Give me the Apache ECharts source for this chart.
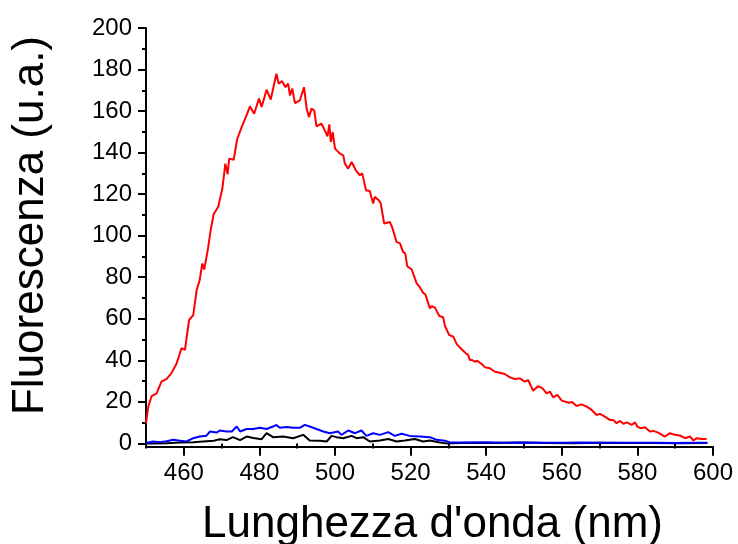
<!DOCTYPE html>
<html>
<head>
<meta charset="utf-8">
<title>Fluorescenza</title>
<script src="https://cdn.jsdelivr.net/npm/echarts@6/dist/echarts.min.js"></script>
<style>
  html, body { margin: 0; padding: 0; background: #ffffff; }
  #chart { width: 738px; height: 544px; }
</style>
</head>
<body>
<div id="chart"></div>
<script>
// Emission spectra: wavelength (nm) and fluorescence intensity (a.u.)
const redWl = [450.0,450.6,451.5,452.8,454.1,455.4,456.7,458.1,459.4,460.3,461.4,462.5,463.4,464.2,464.9,465.4,466.4,467.1,467.9,469.1,470.2,471.0,471.6,472.0,473.2,474.1,475.3,476.6,477.5,478.6,479.9,480.6,481.9,483.0,484.5,485.1,486.0,486.9,487.6,488.1,488.7,489.4,490.7,491.1,491.8,492.5,493.1,493.8,494.5,495.1,496.4,497.3,498.0,498.5,498.9,499.4,500.0,501.3,502.2,502.6,503.5,504.4,505.5,506.6,507.2,508.2,509.2,510.1,510.5,511.6,512.1,513.0,514.5,515.1,516.3,517.2,518.0,518.6,519.1,520.3,521.6,522.5,523.3,523.9,524.4,525.1,525.6,526.4,527.6,528.6,529.1,530.2,531.3,532.2,533.5,534.6,535.2,535.7,536.3,537.0,537.6,538.8,539.7,541.0,542.3,543.6,544.9,546.3,547.6,548.9,550.2,551.1,552.4,553.8,554.9,556.0,556.9,557.7,558.8,560.0,560.9,561.8,562.7,563.9,565.2,566.6,567.9,569.2,570.1,571.4,572.7,573.6,574.5,575.4,576.3,577.2,578.5,579.4,580.0,580.8,582.0,583.3,584.2,585.5,587.3,588.6,589.9,591.2,592.6,593.9,594.8,595.7,597.0,598.3];
const redFl = [9.7,17.7,22.8,24.1,29.7,30.9,33.7,38.5,45.8,45.0,59.4,61.8,73.8,78.6,86.6,83.7,93.8,102.6,110.3,113.9,122.7,134.7,129.6,137.1,136.6,146.3,152.3,157.9,162.3,158.7,166.0,162.0,170.3,165.5,178.0,173.2,174.4,171.5,173.2,167.5,170.8,163.8,165.1,165.1,171.5,161.2,157.1,161.2,160.3,152.6,154.0,150.7,147.8,153.6,145.1,149.9,141.9,139.5,138.7,134.7,132.3,135.5,131.5,129.1,130.0,121.9,121.5,115.5,118.7,117.1,115.5,105.9,106.6,104.2,97.0,96.3,92.2,91.4,85.3,83.7,77.0,75.1,72.5,71.8,69.0,65.0,66.1,65.5,61.3,60.7,56.5,52.2,51.4,47.8,45.3,43.4,42.6,40.1,40.1,39.3,39.8,38.2,36.6,36.2,34.5,34.0,33.4,31.8,31.0,31.3,29.7,30.5,25.4,27.6,26.5,24.1,24.9,22.2,23.3,20.6,20.1,19.6,19.9,18.0,18.8,17.7,16.1,13.7,14.2,12.9,11.3,11.3,9.7,10.8,9.4,10.1,8.9,10.1,8.1,7.3,7.8,5.7,6.0,5.2,3.3,4.9,4.1,3.8,2.5,3.3,1.4,2.5,2.1,2.1];

const blueWl = [450.0,450.5,451.9,453.7,455.4,457.2,459.0,460.7,462.5,464.2,466.0,466.9,468.7,469.5,471.3,472.7,474.0,474.9,476.6,478.4,480.1,481.9,483.6,484.5,485.4,487.2,488.9,490.7,492.0,493.3,495.1,496.9,498.6,500.8,501.7,503.5,505.3,507.0,508.3,510.1,511.9,514.1,515.8,517.6,519.8,522.5,525.1,526.9,529.1,530.4,535.0,540.0,545.0,550.0,555.0,560.0,565.0,570.0,575.0,580.0,585.0,590.0,595.0,598.5];
const blueFl = [0.2,0.4,0.9,0.6,1.0,1.7,1.3,0.9,2.5,3.3,3.7,5.7,5.2,6.2,5.7,5.7,8.1,5.7,6.9,6.9,7.5,6.9,8.1,8.9,7.5,7.9,7.5,7.5,8.9,8.1,6.9,5.7,4.9,5.7,4.1,6.2,4.9,6.2,3.6,4.9,4.1,5.4,3.6,4.6,3.6,3.3,3.0,1.7,1.3,0.4,0.4,0.5,0.3,0.4,0.3,0.3,0.4,0.3,0.3,0.3,0.3,0.2,0.3,0.3];

const blackWl = [450.0,451.9,455.4,459.0,462.5,465.1,467.9,469.5,471.3,473.0,474.9,476.6,478.4,480.6,481.9,483.6,486.3,488.9,491.6,493.3,496.0,497.8,499.1,500.4,502.2,504.4,505.7,507.5,509.2,511.9,514.1,516.3,518.5,521.1,523.3,525.1,527.7,529.5,535.0,542.0,549.0,556.0,563.0,570.0,577.0,584.0,591.0,598.5];
const blackFl = [0.0,0.0,0.1,0.4,0.5,0.9,1.3,2.0,1.6,3.0,1.6,3.3,2.6,2.0,4.9,3.0,3.3,2.5,4.1,1.4,1.3,0.9,3.6,3.0,2.5,3.6,2.5,3.0,0.9,1.4,2.1,0.9,1.4,2.1,0.9,1.4,0.4,0.0,0.3,0.2,0.4,0.2,0.1,0.3,0.2,0.2,0.1,0.2];

// Axis ticks and labels
const xMajor = [460, 480, 500, 520, 540, 560, 580, 600];
const xMinor = [450, 470, 490, 510, 530, 550, 570, 590];
const yMajor = [0, 20, 40, 60, 80, 100, 120, 140, 160, 180, 200];
const yMinor = [10, 30, 50, 70, 90, 110, 130, 150, 170, 190];

const xTitle = "Lunghezza d'onda (nm)";
const yTitle = 'Fluorescenza (u.a.)';

const FONT = '"Liberation Sans", Arial, sans-serif';

const pairs = (xs, ys) => xs.map((x, i) => [x, ys[i]]);

const chart = echarts.init(document.getElementById('chart'), null, { renderer: 'canvas' });

const grid = { left: 146, top: 28, right: 25, bottom: 97.3, containLabel: false };
const axisLine = { show: true, onZero: false, lineStyle: { color: '#000', width: 2 } };

chart.setOption({
  animation: false,
  backgroundColor: '#ffffff',
  grid: grid,
  xAxis: [
    {
      type: 'value', min: 450, max: 600, position: 'bottom',
      axisLine: axisLine,
      axisTick: { show: true, inside: false, length: 9, customValues: xMajor, lineStyle: { color: '#000', width: 2 } },
      axisLabel: { show: true, margin: 15, customValues: xMajor, color: '#000', fontSize: 24, fontFamily: FONT },
      splitLine: { show: false }
    },
    {
      type: 'value', min: 450, max: 600, position: 'bottom',
      axisLine: { show: false },
      axisTick: { show: true, inside: false, length: 5, customValues: xMinor, lineStyle: { color: '#000', width: 2 } },
      axisLabel: { show: false },
      splitLine: { show: false }
    }
  ],
  yAxis: [
    {
      type: 'value', min: -1.6, max: 200, position: 'left',
      axisLine: axisLine,
      axisTick: { show: true, inside: false, length: 8, customValues: yMajor, lineStyle: { color: '#000', width: 2 } },
      axisLabel: { show: true, margin: 14, customValues: yMajor, color: '#000', fontSize: 24, fontFamily: FONT },
      splitLine: { show: false }
    },
    {
      type: 'value', min: -1.6, max: 200, position: 'left',
      axisLine: { show: false },
      axisTick: { show: true, inside: false, length: 4, customValues: yMinor, lineStyle: { color: '#000', width: 2 } },
      axisLabel: { show: false },
      splitLine: { show: false }
    }
  ],
  series: [
    {
      type: 'line', name: 'black', xAxisIndex: 0, yAxisIndex: 0,
      data: pairs(blackWl, blackFl), showSymbol: false, symbol: 'none',
      lineStyle: { color: '#000000', width: 2 }, z: 2
    },
    {
      type: 'line', name: 'blue', xAxisIndex: 0, yAxisIndex: 0,
      data: pairs(blueWl, blueFl), showSymbol: false, symbol: 'none',
      lineStyle: { color: '#0000ff', width: 2 }, z: 3
    },
    {
      type: 'line', name: 'red', xAxisIndex: 0, yAxisIndex: 0,
      data: pairs(redWl, redFl), showSymbol: false, symbol: 'none',
      lineStyle: { color: '#ff0000', width: 2 }, z: 4
    }
  ],
  graphic: [
    {
      type: 'text', x: 31, y: 225.5, rotation: Math.PI / 2,
      style: { text: yTitle, fill: '#000', font: '44px ' + FONT, align: 'center', verticalAlign: 'middle' }
    },
    {
      type: 'text', x: 432.5, y: 525,
      style: { text: xTitle, fill: '#000', font: '44px ' + FONT, align: 'center', verticalAlign: 'middle' }
    }
  ]
});
</script>
</body>
</html>
